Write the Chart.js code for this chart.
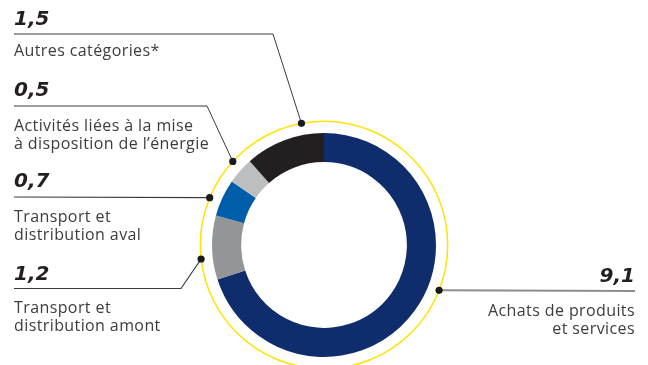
<!DOCTYPE html>
<html>
<head>
<meta charset="utf-8">
<script src="https://cdn.jsdelivr.net/npm/chart.js@4/dist/chart.umd.min.js"></script>
<style>
  html, body { margin: 0; padding: 0; background: #fff; }
  #wrap { width: 648px; height: 365px; }
</style>
</head>
<body>
<div id="wrap"><canvas id="scopeChart" width="648" height="365"></canvas></div>
<script>
const categories = [
  'Achats de produits et services',
  'Transport et distribution amont',
  'Transport et distribution aval',
  'Activités liées à la mise à disposition de l’énergie',
  'Autres catégories*'
]
const values = [9.1, 1.2, 0.7, 0.5, 1.5]
const colors = ['#0f2d6c', '#939598', '#005daa', '#bcbec0', '#231f20']

// how each label is wrapped in the picture
const labelLines = [
  ['Achats de produits', 'et services'],
  ['Transport et', 'distribution amont'],
  ['Transport et', 'distribution aval'],
  ['Activités liées à la mise', 'à disposition de l’énergie'],
  ['Autres catégories*']
]

const fmt = (v) => v.toFixed(1).replace('.', ',')

// callout layout: dot angle on the yellow ring (deg from top, clockwise),
// leader path from the text side, and text anchor
const callouts = [
  { angle: 111.5, path: [[635, 291]], align: 'right', x: 635, numY: 282, lineY: 316, lineColor: '#8c8c8c', lineWidth: 2 },
  { angle: 263.5, path: [[181, 288.5], [14, 288.5]], align: 'left', x: 14, numY: 280, lineY: 313, lineColor: '#3a3a3a', lineWidth: 1.2 },
  { angle: 292.5, path: [[14, 197]], align: 'left', x: 14, numY: 187, lineY: 222, lineColor: '#3a3a3a', lineWidth: 1.2 },
  { angle: 312.5, path: [[207, 106], [14, 106]], align: 'left', x: 14, numY: 96, lineY: 131, lineColor: '#3a3a3a', lineWidth: 1 },
  { angle: 349.5, path: [[273, 34], [14, 34]], align: 'left', x: 14, numY: 25, lineY: 56, lineColor: '#3a3a3a', lineWidth: 1 }
]

const calloutPlugin = {
  id: 'callouts',
  afterDraw(chart) {
    const ctx = chart.ctx
    const arc = chart.getDatasetMeta(0).data[0]
    const cx = arc.x, cy = arc.y
    const ringR = arc.outerRadius + 11.7

    ctx.save()
    ctx.strokeStyle = '#ffe300'
    ctx.lineWidth = 1.5
    ctx.beginPath()
    ctx.arc(cx, cy, ringR, 0, Math.PI * 2)
    ctx.stroke()

    callouts.forEach((c, i) => {
      const a = c.angle * Math.PI / 180
      const dx = cx + ringR * Math.sin(a)
      const dy = cy - ringR * Math.cos(a)

      ctx.strokeStyle = c.lineColor
      ctx.lineWidth = c.lineWidth
      ctx.beginPath()
      ctx.moveTo(dx, dy)
      c.path.forEach(p => ctx.lineTo(p[0], p[1]))
      ctx.stroke()

      ctx.fillStyle = '#1a1a1a'
      ctx.beginPath()
      ctx.arc(dx, dy, 3.6, 0, Math.PI * 2)
      ctx.fill()

      ctx.textAlign = c.align
      ctx.textBaseline = 'alphabetic'
      ctx.letterSpacing = '0px'
      ctx.fillStyle = '#231f20'
      ctx.font = 'italic bold 20px "DejaVu Sans"'
      ctx.fillText(fmt(values[i]), c.x, c.numY)

      ctx.fillStyle = '#3c3c3b'
      ctx.font = '16px "Open Sans"'
      ctx.letterSpacing = '0.4px'
      labelLines[i].forEach((t, k) => {
        ctx.fillText(t, c.x, c.lineY + k * 17.6)
      })
    })
    ctx.restore()
  }
}

const ctx = document.getElementById('scopeChart').getContext('2d')
new Chart(ctx, {
  type: 'doughnut',
  data: {
    labels: categories,
    datasets: [{
      data: values,
      backgroundColor: colors,
      borderWidth: 0
    }]
  },
  options: {
    responsive: false,
    animation: false,
    cutout: '74%',
    rotation: 0,
    layout: { padding: { top: 133, bottom: 8, left: 0, right: 0 } },
    plugins: {
      legend: { display: false },
      tooltip: { enabled: false }
    }
  },
  plugins: [calloutPlugin]
})
</script>
</body>
</html>
